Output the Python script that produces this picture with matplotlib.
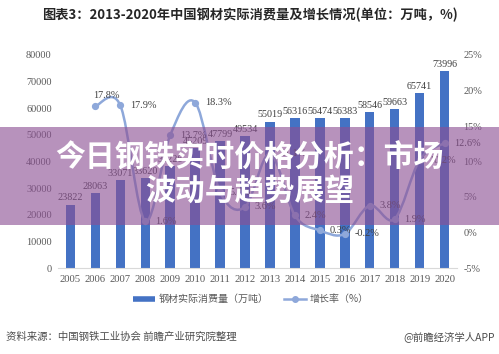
import matplotlib
matplotlib.use("Agg")
import matplotlib.pyplot as plt
from matplotlib.path import Path
from matplotlib.patches import PathPatch, Rectangle
from matplotlib.lines import Line2D

# ---------------- data ----------------
years = [str(y) for y in range(2005, 2021)]
consumption = [23822, 28063, 33071, 33620, 38226, 45209, 47799, 49534,
               55019, 56316, 56474, 56383, 58546, 59663, 65741, 73996]
growth_years = years[1:]
growth = [17.8, 17.9, 1.6, 13.7, 18.3, 5.7, 3.6, 11.1,
          2.4, 0.3, -0.2, 3.8, 1.9, 10.2, 12.6]
left_ticks = [0, 10000, 20000, 30000, 40000, 50000, 60000, 70000, 80000]
right_ticks = [-5, 0, 5, 10, 15, 20, 25]

title = "图表3：2013-2020年中国钢材实际消费量及增长情况(单位：万吨，%)"
legend_bar = "钢材实际消费量（万吨）"
legend_line = "增长率（%）"
source = "资料来源：中国钢铁工业协会 前瞻产业研究院整理"
credit = "@前瞻经济学人APP"
banner_1 = "今日钢铁实时价格分析：市场"
banner_2 = "波动与趋势展望"

# ---------------- style ----------------
CJK = ["Noto Sans CJK SC", "DejaVu Sans"]
SERIF = ["Liberation Serif", "DejaVu Serif"]
plt.rcParams["font.family"] = CJK
BAR_C = "#4472C4"
LINE_C = "#8EA8DA"
TXT = "#595959"

W, H = 499, 354
fig = plt.figure(figsize=(W / 100, H / 100), dpi=100)
fig.patch.set_facecolor("white")

ax = fig.add_axes([58 / W, 1 - 268 / H, (457 - 58) / W, (268 - 55) / H])
x = list(range(len(years)))
ax.bar(x, consumption, width=0.38, color=BAR_C, zorder=2)
ax.set_xlim(-0.5, len(years) - 0.5)
ax.set_ylim(0, 80000)
ax.set_yticks(left_ticks)
ax.set_yticklabels([str(t) for t in left_ticks], family=SERIF, fontsize=7.4, color=TXT)
ax.set_xticks(x)
ax.set_xticklabels(years, family=SERIF, fontsize=7.7, color=TXT)
ax.tick_params(axis="both", length=0)
ax.tick_params(axis="y", pad=4.5)
ax.tick_params(axis="x", pad=5)
for s in ("top", "left", "right"):
    ax.spines[s].set_visible(False)
ax.spines["bottom"].set_color("#D9D9D9")

for i, v in enumerate(consumption):
    ax.annotate(str(v), (i, v), xytext=(0, 1.5), textcoords="offset points",
                ha="center", va="bottom", family=SERIF, fontsize=7.3, color="#404040")

ax2 = ax.twinx()
ax2.set_ylim(-5, 25)
ax2.set_yticks(right_ticks)
ax2.set_yticklabels([f"{t}%" for t in right_ticks], family=SERIF, fontsize=7.4, color=TXT)
ax2.tick_params(axis="y", length=0, pad=4.5)
for s in ("top", "left", "right", "bottom"):
    ax2.spines[s].set_visible(False)

# smoothed line (Excel-style Bezier through the data points)
gx = [years.index(y) for y in growth_years]
pts = list(zip(gx, growth))
verts = [pts[0]]
codes = [Path.MOVETO]
n = len(pts)
for k in range(n - 1):
    p0 = pts[k - 1] if k > 0 else pts[k]
    p1 = pts[k]
    p2 = pts[k + 1]
    p3 = pts[k + 2] if k + 2 < n else pts[k + 1]
    c1 = (p1[0] + (p2[0] - p0[0]) / 6, p1[1] + (p2[1] - p0[1]) / 6)
    c2 = (p2[0] - (p3[0] - p1[0]) / 6, p2[1] - (p3[1] - p1[1]) / 6)
    verts += [c1, c2, p2]
    codes += [Path.CURVE4] * 3
ax2.add_patch(PathPatch(Path(verts, codes), facecolor="none", edgecolor=LINE_C,
                        lw=1.8, zorder=3))
ax2.plot(gx, growth, linestyle="none", marker="o", markersize=4.2,
         color=LINE_C, zorder=4)
for i, (xi, g) in enumerate(zip(gx, growth)):
    if i == 0:
        off = (-1.5, 7.5)
    else:
        off = (7, 0)
    ax2.annotate(f"{g}%", (xi, g), xytext=off, textcoords="offset points",
                 ha="left", va="center", family=SERIF, fontsize=7.4, color="#404040")

# legend
h_bar = Line2D([], [], color=BAR_C, lw=4, solid_capstyle="butt")
h_line = Line2D([], [], color=LINE_C, lw=1.8, marker="o", markersize=4)
fig.legend([h_bar, h_line], [legend_bar, legend_line], loc="center",
           bbox_to_anchor=(0.503, 1 - 299 / H), ncol=2, frameon=False,
           fontsize=7.2, labelcolor=TXT, handlelength=2.2, columnspacing=1.6,
           handletextpad=0.3)

# title and footer
fig.text(0.5, 1 - 15 / H, title, ha="center", va="center", fontsize=9.5,
         fontweight="bold", color="#262626")
fig.text(6 / W, 1 - 337 / H, source, ha="left", va="center", fontsize=7.5,
         color="#4d4d4d")
fig.text(495 / W, 1 - 337 / H, credit, ha="right", va="center", fontsize=7.5,
         color="#4d4d4d")

# banner overlay
fig.add_artist(Rectangle((0, 1 - 225 / H), 1, 98 / H, transform=fig.transFigure,
                         facecolor=(140 / 255, 80 / 255, 148 / 255), alpha=0.62,
                         edgecolor="none", zorder=10))
fig.text(0.5, 1 - 158 / H, banner_1, ha="center", va="center", fontsize=21.5,
         fontweight="bold", color="white", zorder=11)
fig.text(0.5, 1 - 191 / H, banner_2, ha="center", va="center", fontsize=21.5,
         fontweight="bold", color="white", zorder=11)

fig.savefig("out.png", dpi=100)
